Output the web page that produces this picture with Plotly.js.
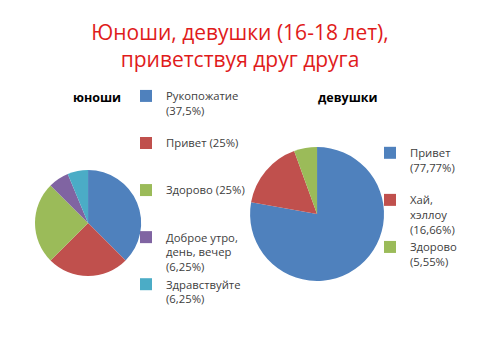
<!DOCTYPE html>
<html><head><meta charset="utf-8">
<script src="https://cdn.plot.ly/plotly-3.0.1.min.js"></script>
<style>html,body{margin:0;padding:0;background:#fff}#c{width:480px;height:360px}</style>
</head><body><div id="c"></div>
<script>
const titleText = "Юноши, девушки (16-18 лет),<br>приветствуя друг друга";
const boysTitle = "юноши";
const girlsTitle = "девушки";
const boysLabels = ["Рукопожатие<br>(37,5%)<br> ", "Привет (25%)<br> <br> ", "Здорово (25%)<br> <br> ", "Доброе утро,<br>день, вечер<br>(6,25%)", "Здравствуйте<br>(6,25%)"];
const boysValues = [37.5, 25, 25, 6.25, 6.25];
const girlsLabels = ["Привет<br>(77,77%)<br> ", "Хай,<br>хэллоу<br>(16,66%)", "Здорово<br>(5,55%)"];
const girlsValues = [77.77, 16.66, 5.55];
const boysColors = ["#4f81bd", "#c0504d", "#9bbb59", "#8064a2", "#4bacc6"];
const girlsColors = ["#4f81bd", "#c0504d", "#9bbb59"];

const font = "Open Sans, Noto Sans, sans-serif";
const data = [
  {type:'pie', labels:boysLabels, values:boysValues, sort:false, direction:'clockwise', rotation:0,
   marker:{colors:boysColors, line:{width:0}}, textinfo:'none', hoverinfo:'label+value',
   domain:{x:[0.0729,0.294], y:[0.233,0.528]}, legend:'legend'},
  {type:'pie', labels:girlsLabels, values:girlsValues, sort:false, direction:'clockwise', rotation:0,
   marker:{colors:girlsColors, line:{width:0}}, textinfo:'none', hoverinfo:'label+value',
   domain:{x:[0.521,0.8], y:[0.219,0.592]}, legend:'legend2'}
];
const legendBase = {font:{family:font, size:11.3, color:'#404040'}, valign:'top', bgcolor:'rgba(0,0,0,0)', itemwidth:30, tracegroupgap:0};
const layout = {
  width:480, height:360, margin:{l:0,r:0,t:0,b:0, autoexpand:false}, paper_bgcolor:'#fff',
  title:{text:titleText, x:0.5, xanchor:'center', y:0.889, yref:'container', yanchor:'middle',
    font:{family:font, size:21, color:'#e01b1b'}},
  showlegend:true,
  legend:Object.assign({x:0.2625, y:0.772, xanchor:'left', yanchor:'top'}, legendBase),
  legend2:Object.assign({x:0.7708, y:0.614, xanchor:'left', yanchor:'top'}, legendBase),
  annotations:[
    {text:'<b>'+boysTitle+'</b>', x:97/480, y:1-98/360, xref:'paper', yref:'paper', xanchor:'center', yanchor:'middle', showarrow:false, font:{family:font, size:12.5, color:'#000'}},
    {text:'<b>'+girlsTitle+'</b>', x:348/480, y:1-98/360, xref:'paper', yref:'paper', xanchor:'center', yanchor:'middle', showarrow:false, font:{family:font, size:12.5, color:'#000'}}
  ]
};
Plotly.newPlot('c', data, layout, {displayModeBar:false, staticPlot:true});
</script></body></html>
